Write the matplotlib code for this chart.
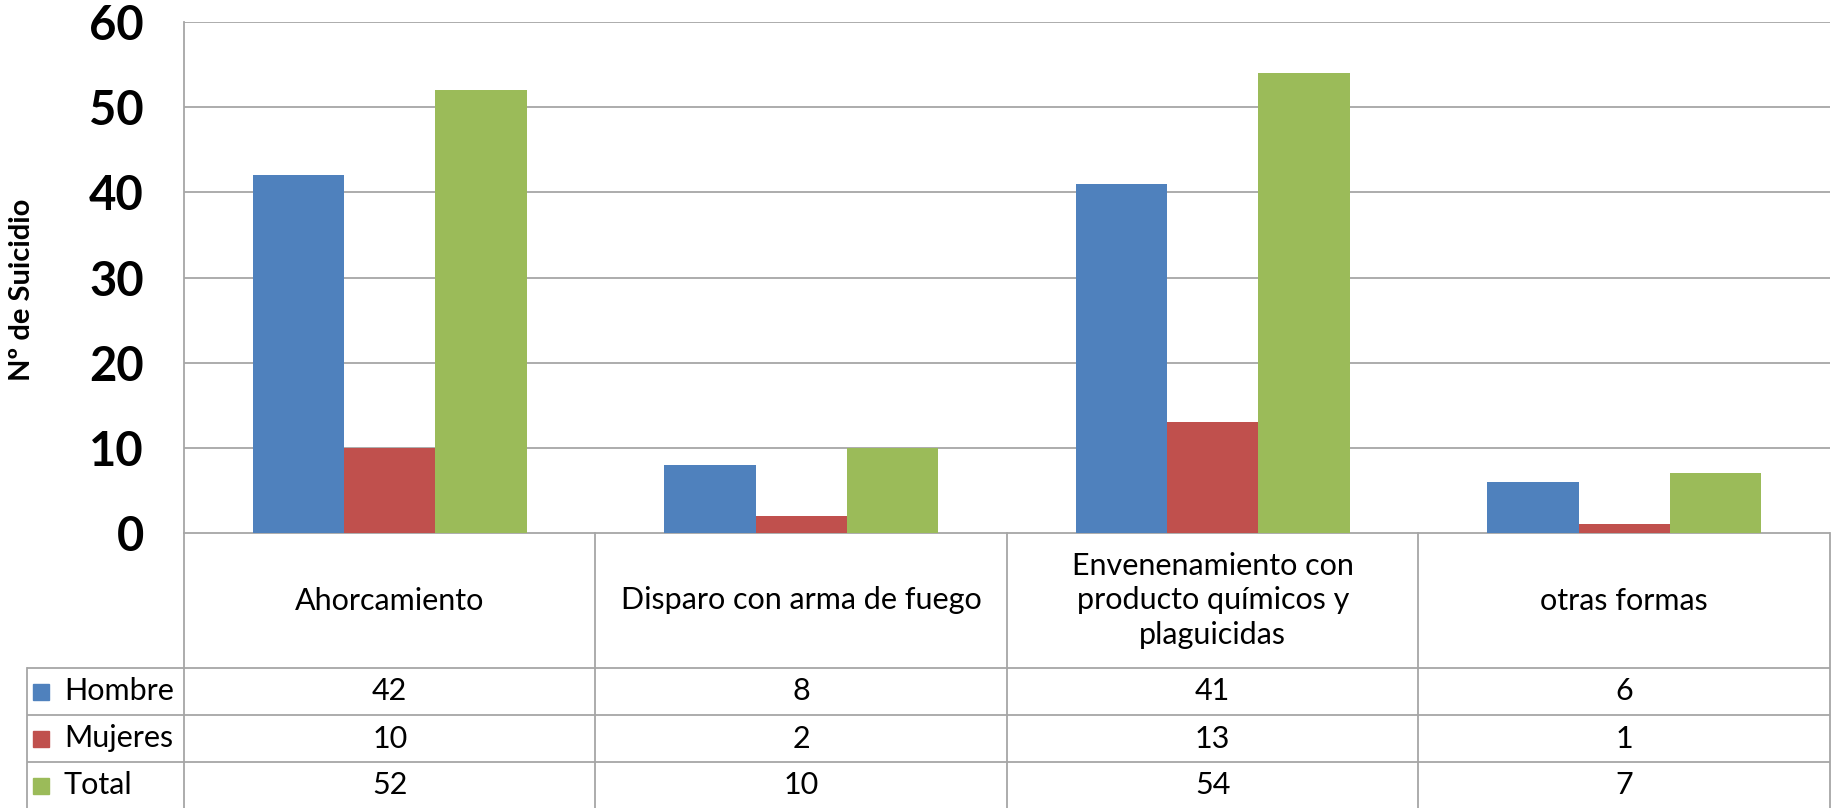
import matplotlib.pyplot as plt
from matplotlib.patches import Rectangle

plt.rcParams['font.family'] = ['Lato', 'DejaVu Sans']

categorias = ["Ahorcamiento", "Disparo con arma de fuego",
              "Envenenamiento con\nproducto químicos y\nplaguicidas", "otras formas"]
series = ["Hombre", "Mujeres", "Total"]
hombre = [42, 8, 41, 6]
mujeres = [10, 2, 13, 1]
total = [52, 10, 54, 7]
colores = ["#4F81BD", "#C0504D", "#9BBB59"]
yticks = [0, 10, 20, 30, 40, 50, 60]

W, H = 1837, 808
fig = plt.figure(figsize=(W / 100, H / 100), dpi=100)

# zona del grafico (pixeles de la imagen)
x0, x1 = 184, 1830
y_top, y_cero = 22, 533
ax = fig.add_axes([x0 / W, 1 - y_cero / H, (x1 - x0) / W, (y_cero - y_top) / H])

grid_col = "#A6A6A6"
n = len(categorias)
ancho = 1 / 1.5 / 3
for i, (vals, c) in enumerate(zip([hombre, mujeres, total], colores)):
    xs = [k - 1.5 * ancho + (i + 0.5) * ancho for k in range(n)]
    ax.bar(xs, vals, width=ancho, color=c, zorder=3)

ax.set_xlim(-0.5, n - 0.5)
ax.set_ylim(0, 60)
ax.set_yticks(yticks)
ax.set_yticklabels([str(t) for t in yticks], fontsize=34, fontweight='bold')
ax.tick_params(axis='y', length=0, pad=29)
ax.set_xticks([])
ax.grid(axis='y', color=grid_col, linewidth=1.3, zorder=0)
for s in ['top', 'right', 'bottom']:
    ax.spines[s].set_visible(False)
ax.spines['left'].set_color(grid_col)
ax.spines['left'].set_linewidth(1.3)

fig.text(22 / W, 1 - 290 / H, "Nº de Suicidio", rotation=90, fontsize=21,
         fontweight='bold', ha='center', va='center')

# tabla de datos bajo el grafico
px_unidad = (x1 - x0) / n
x_lab = -0.5 - (x0 - 27) / px_unidad
tab = fig.add_axes([27 / W, 0, (x1 - 27) / W, (H - y_cero) / H])
tab.set_xlim(x_lab, n - 0.5)
tab.set_ylim(H - y_cero, 0)
tab.axis('off')

h_cab = 135
h_fila = 47
lw = 1.3
tab.plot([-0.5, n - 0.5], [0, 0], color=grid_col, lw=lw)
for k in range(n + 1):
    tab.plot([k - 0.5, k - 0.5], [0, H], color=grid_col, lw=lw, clip_on=False)
tab.plot([x_lab, x_lab], [h_cab, H], color=grid_col, lw=lw, clip_on=False)
for j in range(len(series)):
    y = h_cab + j * h_fila
    tab.plot([x_lab, n - 0.5], [y, y], color=grid_col, lw=lw)

for k, cat in enumerate(categorias):
    tab.text(k, h_cab / 2, cat, ha='center', va='center', fontsize=22,
             linespacing=1.3)

cuad = 16
for j, (nombre, vals, c) in enumerate(zip(series, [hombre, mujeres, total], colores)):
    yc = h_cab + (j + 0.5) * h_fila
    tab.add_patch(Rectangle((x_lab + 6 / px_unidad, yc - cuad / 2), cuad / px_unidad,
                            cuad, color=c, clip_on=False))
    tab.text(x_lab + 37 / px_unidad, yc, nombre, ha='left', va='center', fontsize=22)
    for k, v in enumerate(vals):
        tab.text(k, yc, str(v), ha='center', va='center', fontsize=22)

fig.savefig("out.png", dpi=100, facecolor='white')
